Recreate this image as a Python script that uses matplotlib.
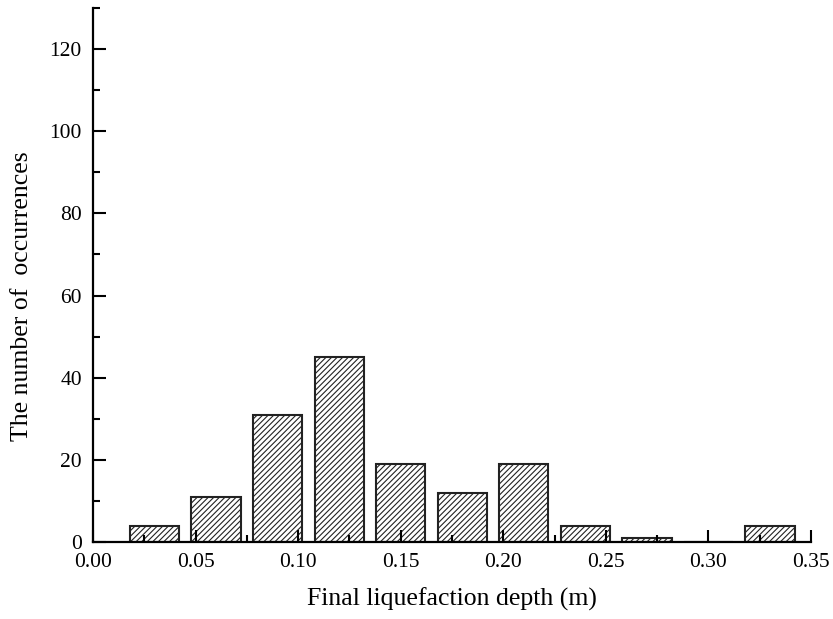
import matplotlib.pyplot as plt
from matplotlib.ticker import MultipleLocator

plt.rcParams['font.family'] = ['Liberation Serif', 'DejaVu Serif']
plt.rcParams['hatch.linewidth'] = 0.8

# bin centres and counts
depth = [0.03, 0.06, 0.09, 0.12, 0.15, 0.18, 0.21, 0.24, 0.27, 0.30, 0.33]
counts = [4, 11, 31, 45, 19, 12, 19, 4, 1, 0, 4]

fig = plt.figure(figsize=(8.33, 6.19), dpi=100)
ax = fig.add_axes([0.1116, 0.1244, 0.862, 0.8626])

ax.bar(depth, counts, width=0.024, color='white', edgecolor='#222222',
       linewidth=1.5, hatch='//////')

ax.set_xlim(0, 0.35)
ax.set_ylim(0, 130)
ax.xaxis.set_major_locator(MultipleLocator(0.05))
ax.xaxis.set_minor_locator(MultipleLocator(0.025))
ax.yaxis.set_major_locator(MultipleLocator(20))
ax.yaxis.set_minor_locator(MultipleLocator(10))
ax.xaxis.set_major_formatter(plt.FuncFormatter(lambda v, p: f'{v:.2f}'))

for s in ['top', 'right']:
    ax.spines[s].set_visible(False)
for s in ['left', 'bottom']:
    ax.spines[s].set_linewidth(1.6)

ax.tick_params(which='major', direction='in', length=9, width=1.5,
               labelsize=15.5, pad=8)
ax.tick_params(which='minor', direction='in', length=5, width=1.5)

ax.set_xlabel('Final liquefaction depth (m)', fontsize=18.5, labelpad=11)
ax.set_ylabel('The number of  occurrences', fontsize=18.5)
ax.yaxis.set_label_coords(-0.084, 0.46)

fig.savefig('out.png', dpi=100)
